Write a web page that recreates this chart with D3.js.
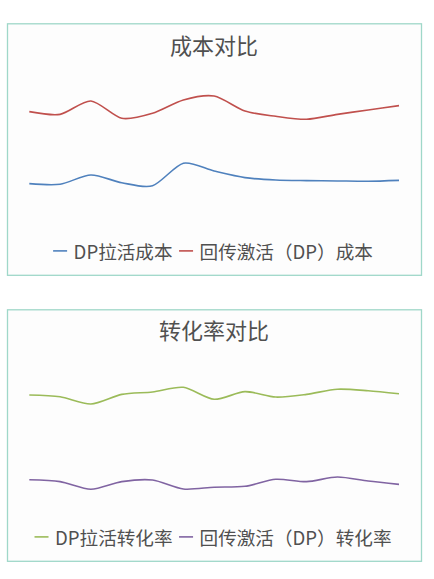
<!DOCTYPE html>
<html>
<head>
<meta charset="utf-8">
<script src="https://cdn.jsdelivr.net/npm/d3@7"></script>
<style>
  body { margin: 0; background: #fff; }
  text { font-family: "Noto Sans CJK SC", "Noto Sans", sans-serif; }
</style>
</head>
<body>
<div id="chart"></div>
<script>
// 13 periods along the x axis (no labels shown in the picture)
var periods = d3.range(1, 14);

// cost panel
var costTitle = '成本对比';
var costNames = ['DP拉活成本', '回传激活（DP）成本'];
var dpCost = [3.11, 3.07, 3.69, 3.17, 2.97, 4.47, 3.95, 3.51, 3.35, 3.31, 3.29, 3.27, 3.33];
var backCost = [7.91, 7.73, 8.62, 7.47, 7.80, 8.69, 8.95, 7.95, 7.60, 7.40, 7.73, 8.02, 8.31];

// conversion panel
var rateTitle = '转化率对比';
var rateNames = ['DP拉活转化率', '回传激活（DP）转化率'];
var dpRate = [8.09, 7.97, 7.49, 8.13, 8.29, 8.60, 7.80, 8.31, 7.95, 8.13, 8.47, 8.37, 8.17];
var backRate = [2.44, 2.31, 1.80, 2.31, 2.42, 1.82, 1.94, 2.00, 2.47, 2.31, 2.62, 2.35, 2.13];

var width = 434, height = 579;

var svg = d3.select('#chart').append('svg')
    .attr('width', width)
    .attr('height', height);

function drawPanel(top, title, names, seriesA, seriesB, colors, titleY) {
    var boxH = 251.5;
    var g = svg.append('g').attr('transform', 'translate(0,' + top + ')');

    // panel frame
    g.append('rect')
        .attr('x', 7.5).attr('y', 0.5)
        .attr('width', 414).attr('height', boxH)
        .attr('fill', '#fdfdfd')
        .attr('stroke', '#9fd8c9')
        .attr('stroke-width', 1.3);

    g.append('text')
        .attr('x', 214).attr('y', titleY)
        .attr('text-anchor', 'middle')
        .attr('dominant-baseline', 'central')
        .attr('font-size', 22)
        .attr('fill', '#505050')
        .text(title);

    var x = d3.scalePoint().domain(periods).range([29.3, 399]);
    var y = d3.scaleLinear().domain([0, 10]).range([207, 57]);

    var line = d3.line()
        .x(function(d, i) { return x(periods[i]); })
        .y(function(d) { return y(d); })
        .curve(d3.curveCardinal.tension(0.2));

    [seriesB, seriesA].forEach(function(s, k) {
        g.append('path')
            .datum(s)
            .attr('d', line)
            .attr('fill', 'none')
            .attr('stroke', k == 0 ? colors[1] : colors[0])
            .attr('stroke-width', 1.6);
    });

    // legend, centred under the plot
    var leg = g.append('g').attr('transform', 'translate(0,' + 227.6 + ')');
    var items = leg.selectAll('g').data(names).enter().append('g');
    items.append('line')
        .attr('x1', 0).attr('x2', 14)
        .attr('stroke', function(d, i) { return colors[i]; })
        .attr('stroke-width', 1.6);
    items.append('text')
        .attr('x', 20.5)
        .attr('dominant-baseline', 'central')
        .attr('font-size', 18.6)
        .attr('fill', '#505050')
        .text(function(d) { return d; });

    var pos = 0, offs = [];
    items.each(function(d, i) {
        offs.push(pos);
        pos += 20.5 + this.querySelector('text').getComputedTextLength() + 6.5;
    });
    var total = pos - 6.5;
    var start = 213 - total / 2;
    items.attr('transform', function(d, i) { return 'translate(' + (start + offs[i]) + ',0)'; });
}

drawPanel(23.3, costTitle, costNames, dpCost, backCost, ['#4f81bd', '#c0504d'], 20.5);
drawPanel(309.3, rateTitle, rateNames, dpRate, backRate, ['#9bbb59', '#8064a2'], 19.3);
</script>
</body>
</html>
